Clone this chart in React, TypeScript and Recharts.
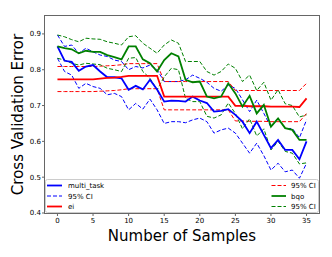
import { LineChart, Line, XAxis, YAxis } from "recharts";

const samples = [0, 1, 2, 3, 4, 5, 6, 7, 8, 9, 10, 11, 12, 13, 14, 15, 16, 17, 18, 19, 20, 21, 22, 23, 24, 25, 26, 27, 28, 29, 30, 31, 32, 33, 34, 35];

const multiTask = [0.865, 0.825, 0.822, 0.797, 0.809, 0.813, 0.795, 0.779, 0.779, 0.776, 0.744, 0.755, 0.745, 0.772, 0.745, 0.711, 0.714, 0.713, 0.711, 0.725, 0.714, 0.707, 0.683, 0.685, 0.69, 0.674, 0.655, 0.623, 0.655, 0.618, 0.581, 0.604, 0.576, 0.576, 0.55, 0.6];
const multiTaskHi = [0.897, 0.865, 0.869, 0.846, 0.86, 0.85, 0.841, 0.837, 0.827, 0.823, 0.8, 0.809, 0.805, 0.813, 0.8, 0.767, 0.767, 0.767, 0.772, 0.785, 0.776, 0.765, 0.748, 0.74, 0.757, 0.748, 0.716, 0.683, 0.715, 0.678, 0.64, 0.665, 0.636, 0.636, 0.61, 0.66];
const multiTaskLo = [0.832, 0.795, 0.785, 0.748, 0.762, 0.753, 0.748, 0.73, 0.734, 0.725, 0.688, 0.706, 0.69, 0.718, 0.688, 0.65, 0.655, 0.655, 0.652, 0.66, 0.665, 0.655, 0.623, 0.632, 0.637, 0.623, 0.595, 0.567, 0.595, 0.56, 0.52, 0.539, 0.515, 0.52, 0.497, 0.539];

const ei = [0.773, 0.773, 0.773, 0.773, 0.773, 0.773, 0.775, 0.777, 0.778, 0.78, 0.783, 0.783, 0.783, 0.783, 0.783, 0.725, 0.725, 0.725, 0.725, 0.725, 0.725, 0.725, 0.725, 0.725, 0.725, 0.699, 0.699, 0.698, 0.698, 0.698, 0.697, 0.697, 0.697, 0.697, 0.696, 0.72];
const eiHi = [0.809, 0.809, 0.809, 0.809, 0.809, 0.809, 0.81, 0.811, 0.812, 0.814, 0.817, 0.817, 0.817, 0.817, 0.817, 0.767, 0.767, 0.767, 0.767, 0.767, 0.767, 0.767, 0.767, 0.767, 0.767, 0.742, 0.742, 0.742, 0.742, 0.742, 0.742, 0.742, 0.742, 0.742, 0.742, 0.762];
const eiLo = [0.739, 0.739, 0.739, 0.739, 0.739, 0.739, 0.74, 0.741, 0.742, 0.744, 0.747, 0.747, 0.747, 0.747, 0.747, 0.688, 0.688, 0.688, 0.688, 0.688, 0.688, 0.688, 0.688, 0.688, 0.688, 0.657, 0.657, 0.656, 0.656, 0.656, 0.655, 0.655, 0.655, 0.655, 0.655, 0.678];

const bqo = [0.865, 0.86, 0.857, 0.846, 0.853, 0.85, 0.85, 0.841, 0.835, 0.829, 0.865, 0.865, 0.829, 0.818, 0.795, 0.827, 0.846, 0.837, 0.772, 0.765, 0.767, 0.725, 0.72, 0.725, 0.762, 0.734, 0.697, 0.727, 0.678, 0.702, 0.641, 0.664, 0.637, 0.632, 0.604, 0.604];
const bqoHi = [0.897, 0.892, 0.884, 0.878, 0.888, 0.886, 0.885, 0.878, 0.874, 0.869, 0.892, 0.895, 0.874, 0.86, 0.846, 0.869, 0.883, 0.874, 0.823, 0.823, 0.823, 0.795, 0.785, 0.795, 0.816, 0.804, 0.767, 0.785, 0.742, 0.765, 0.715, 0.744, 0.705, 0.7, 0.668, 0.674];
const bqoLo = [0.832, 0.827, 0.818, 0.813, 0.818, 0.816, 0.814, 0.804, 0.8, 0.795, 0.832, 0.834, 0.795, 0.776, 0.744, 0.78, 0.804, 0.8, 0.72, 0.711, 0.711, 0.67, 0.665, 0.674, 0.707, 0.678, 0.635, 0.663, 0.615, 0.635, 0.576, 0.6, 0.572, 0.567, 0.537, 0.54];

const xTicks = [0, 5, 10, 15, 20, 25, 30, 35];
const yTicks = [0.4, 0.5, 0.6, 0.7, 0.8, 0.9];

const data = samples.map((s, i) => ({
  s,
  mt: multiTask[i],
  mtHi: multiTaskHi[i],
  mtLo: multiTaskLo[i],
  ei: ei[i],
  eiHi: eiHi[i],
  eiLo: eiLo[i],
  bqo: bqo[i],
  bqoHi: bqoHi[i],
  bqoLo: bqoLo[i],
}));

const BLUE = "#0000ff";
const RED = "#ff0000";
const GREEN = "#008000";
const DASH = "4 2";

const leftItems = [
  { label: "multi_task", color: BLUE, dashed: false },
  { label: "95% CI", color: BLUE, dashed: true },
  { label: "ei", color: RED, dashed: false },
];
const rightItems = [
  { label: "95% CI", color: RED, dashed: true },
  { label: "bqo", color: GREEN, dashed: false },
  { label: "95% CI", color: GREEN, dashed: true },
];
const rowY = [185.5, 196, 206.5];

export default function App() {
  const tick = { fill: "#000", fontSize: 7, fontFamily: "DejaVu Sans" };
  return (
    <div style={{ position: "absolute", left: 0, top: 0, width: 332, height: 257, background: "#fff" }}>
      <LineChart
        width={332}
        height={257}
        data={data}
        margin={{ top: 16, right: 13, left: 15, bottom: 24 }}
      >
        <XAxis
          dataKey="s"
          type="number"
          domain={[-1.75, 36.75]}
          ticks={xTicks}
          tick={tick}
          height={20}
          tickSize={3}
          tickMargin={2}
          axisLine={false}
          tickLine={{ stroke: "#666" }}
        />
        <YAxis
          type="number"
          domain={[0.4, 0.95]}
          ticks={yTicks}
          tickFormatter={(v: number) => v.toFixed(1)}
          tick={tick}
          width={30}
          tickSize={3}
          tickMargin={1}
          allowDataOverflow
          axisLine={false}
          tickLine={{ stroke: "#666" }}
        />
        <Line dataKey="mtHi" stroke={BLUE} strokeWidth={1} strokeDasharray={DASH} dot={false} isAnimationActive={false} />
        <Line dataKey="mtLo" stroke={BLUE} strokeWidth={1} strokeDasharray={DASH} dot={false} isAnimationActive={false} />
        <Line dataKey="eiHi" stroke={RED} strokeWidth={1} strokeDasharray={DASH} dot={false} isAnimationActive={false} />
        <Line dataKey="eiLo" stroke={RED} strokeWidth={1} strokeDasharray={DASH} dot={false} isAnimationActive={false} />
        <Line dataKey="bqoHi" stroke={GREEN} strokeWidth={1} strokeDasharray={DASH} dot={false} isAnimationActive={false} />
        <Line dataKey="bqoLo" stroke={GREEN} strokeWidth={1} strokeDasharray={DASH} dot={false} isAnimationActive={false} />
        <Line dataKey="mt" stroke={BLUE} strokeWidth={1.8} dot={false} isAnimationActive={false} />
        <Line dataKey="ei" stroke={RED} strokeWidth={1.8} dot={false} isAnimationActive={false} />
        <Line dataKey="bqo" stroke={GREEN} strokeWidth={1.8} dot={false} isAnimationActive={false} />
      </LineChart>
      <svg
        width={332}
        height={257}
        style={{ position: "absolute", left: 0, top: 0, pointerEvents: "none" }}
        fontFamily="DejaVu Sans"
      >
        {/* legend box */}
        <rect x={45.5} y={179.5} width={273} height={33} rx={2} fill="#fff" fillOpacity={0.9} stroke="#ccc" />
        {leftItems.map((it, i) => (
          <g key={"l" + i}>
            <line x1={47} x2={62} y1={rowY[i]} y2={rowY[i]} stroke={it.color} strokeWidth={it.dashed ? 1 : 1.8} strokeDasharray={it.dashed ? DASH : undefined} />
            <text x={68} y={rowY[i] + 2.5} fontSize={7}>{it.label}</text>
          </g>
        ))}
        {rightItems.map((it, i) => (
          <g key={"r" + i}>
            <line x1={271.5} x2={286} y1={rowY[i]} y2={rowY[i]} stroke={it.color} strokeWidth={it.dashed ? 1 : 1.8} strokeDasharray={it.dashed ? DASH : undefined} />
            <text x={291} y={rowY[i] + 2.5} fontSize={7}>{it.label}</text>
          </g>
        ))}
        {/* frame */}
        <rect x={44.5} y={15.5} width={275} height={198} fill="none" stroke="#666" />
        <text x={182} y={241} fontSize={15} textAnchor="middle">Number of Samples</text>
        <text x={0} y={0} fontSize={15} textAnchor="middle" transform="translate(22.5 114.5) rotate(-90)">
          Cross Validation Error
        </text>
      </svg>
    </div>
  );
}
